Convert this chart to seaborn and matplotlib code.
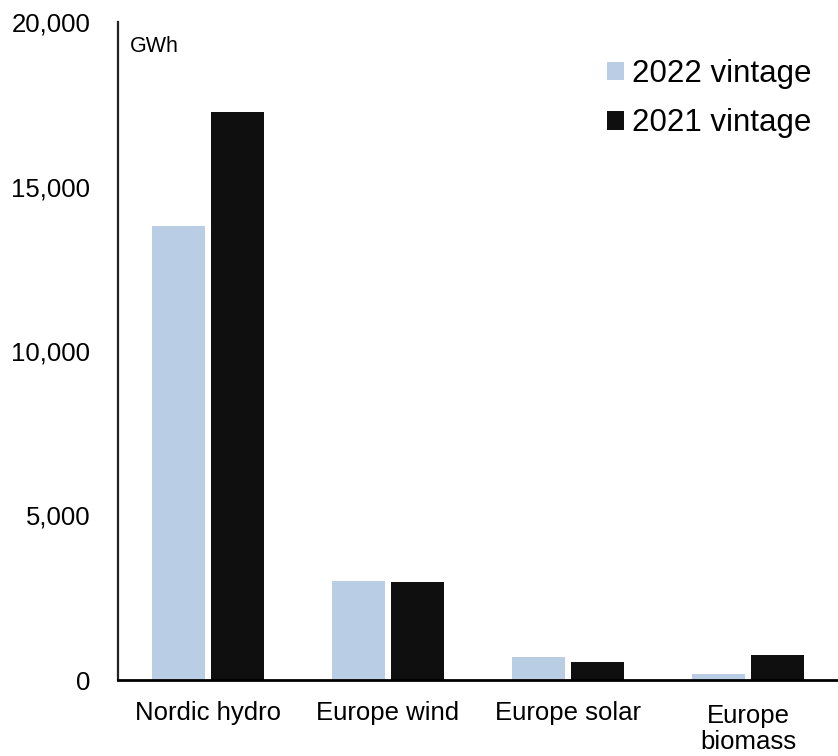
import matplotlib
matplotlib.use("Agg")
import matplotlib.pyplot as plt
import matplotlib.transforms as mtransforms
import seaborn as sns
import pandas as pd
from matplotlib.ticker import FuncFormatter
from matplotlib.patches import Patch

categories = ["Nordic hydro", "Europe wind", "Europe solar", "Europe\nbiomass"]
series_names = ["2022 vintage", "2021 vintage"]
values_2022 = [13800, 3000, 700, 180]
values_2021 = [17250, 2980, 550, 760]
colors = ["#B9CDE5", "#0F0F0F"]
y_ticks = [0, 5000, 10000, 15000, 20000]

sns.set_theme(style="white")
plt.rcParams["font.family"] = ["Liberation Sans", "DejaVu Sans"]
plt.rcParams["text.color"] = "black"
plt.rcParams["xtick.color"] = "black"
plt.rcParams["ytick.color"] = "black"

df = pd.DataFrame({
    "category": categories * 2,
    "series": [series_names[0]] * 4 + [series_names[1]] * 4,
    "value": values_2022 + values_2021,
})

fig = plt.figure(figsize=(8.38, 7.56), dpi=100)
ax = fig.add_axes([118 / 838, 76 / 756, 1 - 118 / 838, (680 - 22) / 756])

sns.barplot(data=df, x="category", y="value", hue="series", order=categories,
            hue_order=series_names, palette=colors, width=0.655, gap=0.09,
            saturation=1, errorbar=None, legend=False, linewidth=0,
            edgecolor="none", ax=ax)

ax.set_xlim(-0.5, 3.5)
ax.set_ylim(0, 20000)
ax.set_yticks(y_ticks)
ax.yaxis.set_major_formatter(FuncFormatter(lambda v, p: f"{int(v):,}"))
ax.set_xlabel("")
ax.set_ylabel("")
ax.tick_params(axis="y", length=0, pad=20, labelsize=18.5, colors="black")
ax.tick_params(axis="x", length=0, pad=15, labelsize=18.5, colors="black")
offset = mtransforms.ScaledTranslation(0, -3 / 100, fig.dpi_scale_trans)
for lbl in ax.get_xticklabels():
    lbl.set_linespacing(1.1)
    if "\n" in lbl.get_text():
        lbl.set_transform(lbl.get_transform() + offset)

for s in ["top", "right"]:
    ax.spines[s].set_visible(False)
ax.spines["left"].set_color("#222222")
ax.spines["left"].set_linewidth(1.6)
ax.spines["bottom"].set_color("black")
ax.spines["bottom"].set_linewidth(2)

fig.text(130 / 838, 1 - 47 / 756, "GWh", fontsize=15.5, va="center", ha="left",
         color="black")

handles = [Patch(facecolor=c, edgecolor="none") for c in colors]
fig.legend(handles, series_names, loc="upper right",
           bbox_to_anchor=(811 / 838, 1 - 59 / 756), frameon=False,
           fontsize=22.5, handlelength=0.55, handleheight=0.55, handletextpad=0.25,
           labelspacing=0.62, borderaxespad=0, borderpad=0, labelcolor="black")

fig.savefig("out.png", dpi=100)
